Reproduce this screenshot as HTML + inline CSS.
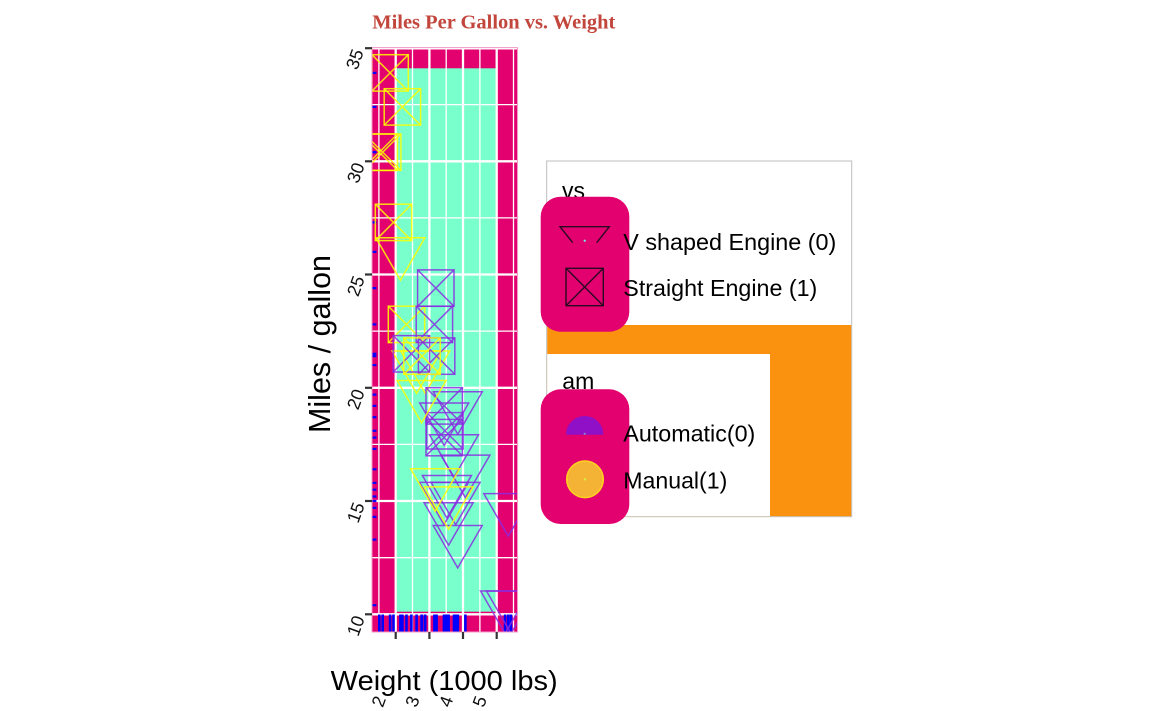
<!DOCTYPE html>
<html>
<head>
<meta charset="utf-8">
<style>
html,body{margin:0;padding:0;background:#fff;}
svg{display:block;}
text{font-family:"Liberation Sans",sans-serif;}
</style>
</head>
<body>
<svg width="1152" height="711" viewBox="0 0 1152 711" xmlns="http://www.w3.org/2000/svg">
<defs>
  <clipPath id="clip"><rect x="372" y="47.6" width="145.5" height="584.4"/></clipPath>
  <path id="tri" d="M-24.5,-14.15 L24.5,-14.15 L0,28.3 Z"/>
  <g id="sq"><rect x="-18.2" y="-18.2" width="36.4" height="36.4"/><path d="M-18.2,-18.2 L18.2,18.2 M18.2,-18.2 L-18.2,18.2"/></g>
</defs>
<rect x="0" y="0" width="1152" height="711" fill="#fff"/>

<!-- Title -->
<text x="372.3" y="28.3" font-weight="bold" font-size="20" fill="#C2463C" textLength="243" lengthAdjust="spacingAndGlyphs" style="font-family:'Liberation Serif',serif">Miles Per Gallon vs. Weight</text>

<!-- Panel -->
<rect x="372" y="47.6" width="145.5" height="584.4" fill="#E3006F"/>
<rect x="396.7" y="68.3" width="99" height="543.4" fill="#78FFCC"/>
<g stroke="#fff">
  <g stroke-width="1.3">
    <line x1="372" x2="517.5" y1="557.7" y2="557.7"/>
    <line x1="372" x2="517.5" y1="444.4" y2="444.4"/>
    <line x1="372" x2="517.5" y1="331.1" y2="331.1"/>
    <line x1="372" x2="517.5" y1="217.9" y2="217.9"/>
    <line x1="372" x2="517.5" y1="104.6" y2="104.6"/>
    <line y1="47.6" y2="632" x1="378.9" x2="378.9"/>
    <line y1="47.6" y2="632" x1="412.5" x2="412.5"/>
    <line y1="47.6" y2="632" x1="446.2" x2="446.2"/>
    <line y1="47.6" y2="632" x1="479.9" x2="479.9"/>
    <line y1="47.6" y2="632" x1="513.5" x2="513.5"/>
  </g>
  <g stroke-width="2.3">
    <line x1="372" x2="517.5" y1="614.3" y2="614.3"/>
    <line x1="372" x2="517.5" y1="501.0" y2="501.0"/>
    <line x1="372" x2="517.5" y1="387.8" y2="387.8"/>
    <line x1="372" x2="517.5" y1="274.5" y2="274.5"/>
    <line x1="372" x2="517.5" y1="161.3" y2="161.3"/>
    <line x1="372" x2="517.5" y1="48.4" y2="48.4"/>
    <line y1="47.6" y2="632" x1="395.7" x2="395.7"/>
    <line y1="47.6" y2="632" x1="429.4" x2="429.4"/>
    <line y1="47.6" y2="632" x1="463.0" x2="463.0"/>
    <line y1="47.6" y2="632" x1="496.7" x2="496.7"/>
  </g>
</g>

<!-- Rugs -->
<g stroke="#0000FF" stroke-width="2.2">
  <line x1="372" x2="376.4" y1="365.1" y2="365.1"/>
  <line x1="372" x2="376.4" y1="324.4" y2="324.4"/>
  <line x1="372" x2="376.4" y1="356.1" y2="356.1"/>
  <line x1="372" x2="376.4" y1="417.2" y2="417.2"/>
  <line x1="372" x2="376.4" y1="430.8" y2="430.8"/>
  <line x1="372" x2="376.4" y1="516.9" y2="516.9"/>
  <line x1="372" x2="376.4" y1="288.1" y2="288.1"/>
  <line x1="372" x2="376.4" y1="405.9" y2="405.9"/>
  <line x1="372" x2="376.4" y1="437.6" y2="437.6"/>
  <line x1="372" x2="376.4" y1="469.3" y2="469.3"/>
  <line x1="372" x2="376.4" y1="448.9" y2="448.9"/>
  <line x1="372" x2="376.4" y1="496.5" y2="496.5"/>
  <line x1="372" x2="376.4" y1="605.2" y2="605.2"/>
  <line x1="372" x2="376.4" y1="507.8" y2="507.8"/>
  <line x1="372" x2="376.4" y1="106.9" y2="106.9"/>
  <line x1="372" x2="376.4" y1="152.2" y2="152.2"/>
  <line x1="372" x2="376.4" y1="72.9" y2="72.9"/>
  <line x1="372" x2="376.4" y1="353.8" y2="353.8"/>
  <line x1="372" x2="376.4" y1="489.7" y2="489.7"/>
  <line x1="372" x2="376.4" y1="539.6" y2="539.6"/>
  <line x1="372" x2="376.4" y1="222.4" y2="222.4"/>
  <line x1="372" x2="376.4" y1="251.9" y2="251.9"/>
  <line x1="372" x2="376.4" y1="482.9" y2="482.9"/>
  <line x1="372" x2="376.4" y1="394.6" y2="394.6"/>
  <line x1="372" x2="376.4" y1="501.0" y2="501.0"/>
</g>
<g stroke="#0000FF" stroke-width="2.6">
  <line y1="614.5" y2="632" x1="416.6" x2="416.6"/>
  <line y1="614.5" y2="632" x1="425.2" x2="425.2"/>
  <line y1="614.5" y2="632" x1="406.5" x2="406.5"/>
  <line y1="614.5" y2="632" x1="436.6" x2="436.6"/>
  <line y1="614.5" y2="632" x1="444.2" x2="444.2"/>
  <line y1="614.5" y2="632" x1="444.9" x2="444.9"/>
  <line y1="614.5" y2="632" x1="448.6" x2="448.6"/>
  <line y1="614.5" y2="632" x1="435.8" x2="435.8"/>
  <line y1="614.5" y2="632" x1="434.4" x2="434.4"/>
  <line y1="614.5" y2="632" x1="465.4" x2="465.4"/>
  <line y1="614.5" y2="632" x1="454.0" x2="454.0"/>
  <line y1="614.5" y2="632" x1="455.6" x2="455.6"/>
  <line y1="614.5" y2="632" x1="505.1" x2="505.1"/>
  <line y1="614.5" y2="632" x1="511.0" x2="511.0"/>
  <line y1="614.5" y2="632" x1="508.3" x2="508.3"/>
  <line y1="614.5" y2="632" x1="402.4" x2="402.4"/>
  <line y1="614.5" y2="632" x1="382.7" x2="382.7"/>
  <line y1="614.5" y2="632" x1="390.1" x2="390.1"/>
  <line y1="614.5" y2="632" x1="411.4" x2="411.4"/>
  <line y1="614.5" y2="632" x1="446.9" x2="446.9"/>
  <line y1="614.5" y2="632" x1="444.0" x2="444.0"/>
  <line y1="614.5" y2="632" x1="457.7" x2="457.7"/>
  <line y1="614.5" y2="632" x1="457.8" x2="457.8"/>
  <line y1="614.5" y2="632" x1="393.5" x2="393.5"/>
  <line y1="614.5" y2="632" x1="400.4" x2="400.4"/>
  <line y1="614.5" y2="632" x1="379.3" x2="379.3"/>
  <line y1="614.5" y2="632" x1="435.1" x2="435.1"/>
  <line y1="614.5" y2="632" x1="421.6" x2="421.6"/>
  <line y1="614.5" y2="632" x1="422.0" x2="422.0"/>
</g>

<!-- Points -->
<g clip-path="url(#clip)" fill="none" stroke-width="1.5">
  <g stroke="#FFFF00" stroke-opacity="0.85">
    <use href="#tri" transform="translate(416.6,365.1)"/>
    <use href="#tri" transform="translate(425.2,365.1)"/>
    <use href="#sq" transform="translate(406.5,324.4)"/>
  </g>
  <g stroke="#8A2BE2" stroke-opacity="0.85">
    <use href="#sq" transform="translate(436.6,356.1)"/>
    <use href="#tri" transform="translate(444.2,417.2)"/>
    <use href="#sq" transform="translate(444.9,430.8)"/>
    <use href="#tri" transform="translate(448.6,516.9)"/>
    <use href="#sq" transform="translate(435.8,288.1)"/>
    <use href="#sq" transform="translate(434.4,324.4)"/>
    <use href="#sq" transform="translate(444.2,405.9)"/>
    <use href="#sq" transform="translate(444.2,437.6)"/>
    <use href="#tri" transform="translate(465.4,469.3)"/>
    <use href="#tri" transform="translate(454.0,448.9)"/>
    <use href="#tri" transform="translate(455.6,496.5)"/>
    <use href="#tri" transform="translate(505.1,605.2)"/>
    <use href="#tri" transform="translate(511.0,605.2)"/>
    <use href="#tri" transform="translate(508.3,507.8)"/>
  </g>
  <g stroke="#FFFF00" stroke-opacity="0.85">
    <use href="#sq" transform="translate(402.4,106.9)"/>
    <use href="#sq" transform="translate(382.7,152.2)"/>
    <use href="#sq" transform="translate(390.1,72.9)"/>
  </g>
  <g stroke="#8A2BE2" stroke-opacity="0.85">
    <use href="#sq" transform="translate(411.4,353.8)"/>
    <use href="#tri" transform="translate(446.9,489.7)"/>
    <use href="#tri" transform="translate(444.0,496.5)"/>
    <use href="#tri" transform="translate(457.7,539.6)"/>
    <use href="#tri" transform="translate(457.8,405.9)"/>
  </g>
  <g stroke="#FFFF00" stroke-opacity="0.85">
    <use href="#sq" transform="translate(393.5,222.4)"/>
    <use href="#tri" transform="translate(400.4,251.9)"/>
    <use href="#sq" transform="translate(379.3,152.2)"/>
    <use href="#tri" transform="translate(435.1,482.9)"/>
    <use href="#tri" transform="translate(421.6,394.6)"/>
    <use href="#tri" transform="translate(448.6,501.0)"/>
    <use href="#sq" transform="translate(422.0,356.1)"/>
  </g>
</g>

<!-- Panel border -->
<rect x="372" y="47.6" width="145.5" height="584.4" fill="none" stroke="#F29AC6" stroke-width="1"/>

<!-- Axis ticks -->
<g stroke="#333" stroke-width="2.2">
  <line x1="365" x2="372" y1="48.2" y2="48.2"/>
  <line x1="365" x2="372" y1="161.3" y2="161.3"/>
  <line x1="365" x2="372" y1="274.5" y2="274.5"/>
  <line x1="365" x2="372" y1="387.8" y2="387.8"/>
  <line x1="365" x2="372" y1="501.0" y2="501.0"/>
  <line x1="365" x2="372" y1="614.3" y2="614.3"/>
  <line y1="632" y2="639" x1="395.7" x2="395.7"/>
  <line y1="632" y2="639" x1="429.4" x2="429.4"/>
  <line y1="632" y2="639" x1="463.0" x2="463.0"/>
  <line y1="632" y2="639" x1="496.7" x2="496.7"/>
</g>

<!-- Y tick labels -->
<g font-size="18" fill="#111" text-anchor="middle">
  <text transform="translate(360.5,61.4) rotate(-70)">35</text>
  <text transform="translate(361.5,174.9) rotate(-70)">30</text>
  <text transform="translate(361.5,288.1) rotate(-70)">25</text>
  <text transform="translate(361.5,401.4) rotate(-70)">20</text>
  <text transform="translate(361.5,514.6) rotate(-70)">15</text>
  <text transform="translate(361.5,627.9) rotate(-70)">10</text>
</g>
<!-- X tick labels -->
<g font-size="18" fill="#111" text-anchor="middle">
  <text transform="translate(384.5,703.6) rotate(-70)">2</text>
  <text transform="translate(418.2,703.6) rotate(-70)">3</text>
  <text transform="translate(451.8,703.6) rotate(-70)">4</text>
  <text transform="translate(485.5,703.6) rotate(-70)">5</text>
</g>

<!-- Axis titles -->
<text x="330.7" y="690" font-size="28" fill="#000" textLength="227" lengthAdjust="spacingAndGlyphs">Weight (1000 lbs)</text>
<text transform="translate(330,344) rotate(-90)" text-anchor="middle" font-size="31" fill="#000" textLength="178" lengthAdjust="spacingAndGlyphs">Miles / gallon</text>

<!-- Legend -->
<rect x="546.7" y="161" width="305" height="355.7" fill="#fff" stroke="#BDBDBD" stroke-width="1"/>
<rect x="547.2" y="325" width="304" height="191.2" fill="#FA9210"/>
<rect x="547.2" y="354" width="222.8" height="162.2" fill="#fff"/>

<text x="562" y="198.7" font-size="23" fill="#000">vs</text>
<rect x="540.7" y="196.7" width="88.6" height="135" rx="20" ry="20" fill="#E3006F"/>
<polyline points="572.7,242.7 560,226.7 609.3,226.7 596.7,242.7" fill="none" stroke="#2A0A22" stroke-width="1.4"/>
<circle cx="584.7" cy="240.7" r="1.1" fill="#66FFEE"/>
<g stroke="#2A0A22" stroke-width="1.4" fill="none">
  <rect x="566" y="268.3" width="37.3" height="37.4"/>
  <path d="M566,268.3 L603.3,305.7 M603.3,268.3 L566,305.7"/>
</g>
<text x="623.3" y="250" font-size="23" fill="#000" textLength="213" lengthAdjust="spacingAndGlyphs">V shaped Engine (0)</text>
<text x="623.3" y="296" font-size="23" fill="#000" textLength="194" lengthAdjust="spacingAndGlyphs">Straight Engine (1)</text>

<text x="562.3" y="388.8" font-size="23" fill="#000">am</text>
<rect x="540.7" y="389.3" width="88.6" height="134.7" rx="20" ry="20" fill="#E3006F"/>
<path d="M566,434.7 A18.7,18.7 0 0 1 603.4,434.7 Z" fill="#9010C8"/>
<circle cx="584.7" cy="433.8" r="1.1" fill="#8888CC"/>
<circle cx="585" cy="479.3" r="18.3" fill="#F4B334" stroke="#FFD21E" stroke-width="1.5"/>
<circle cx="585" cy="479.3" r="1.2" fill="#DDEE44"/>
<text x="623.3" y="441.7" font-size="23" fill="#000" textLength="132" lengthAdjust="spacingAndGlyphs">Automatic(0)</text>
<text x="623.3" y="488.3" font-size="23" fill="#000" textLength="104" lengthAdjust="spacingAndGlyphs">Manual(1)</text>
</svg>
</body>
</html>
